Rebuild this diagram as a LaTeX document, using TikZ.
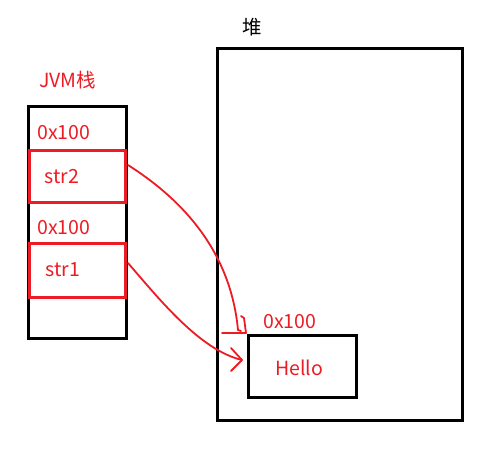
\documentclass[tikz,border=0pt]{standalone}
\usepackage{fontspec}
\setmainfont{Noto Sans CJK SC}
\definecolor{penred}{RGB}{237,28,36}
\begin{document}
\begin{tikzpicture}[x=1pt,y=-1pt,
  blackbox/.style={draw=black,line width=3pt},
  redbox/.style={draw=penred,line width=3pt},
  lbl/.style={font=\fontsize{19.5}{22}\selectfont,inner sep=0pt},
  redlbl/.style={lbl,text=penred},
  link/.style={draw=penred,line width=1.8pt,line cap=round,line join=round}]
\useasboundingbox[fill=white] (0,0) rectangle (495,472);
% stack
\draw[blackbox] (28,106) rectangle (126,338);
\node[redlbl,anchor=west] (jvm) at (39,80) {JVM栈};
\node[redlbl,anchor=west] (a2) at (37,133) {0x100};
\node[redlbl,anchor=west] (a1) at (37,228) {0x100};
\draw[redbox] (29,150) rectangle (125,202);
\node[redlbl] (s2) at (62,177) {str2};
\draw[redbox] (29,243) rectangle (125,297);
\node[redlbl] (s1) at (63,270) {str1};
\coordinate (s2e) at (128,165);
\coordinate (s1e) at (128,263);
% heap
\draw[blackbox] (217,48) rectangle (462,420);
\node[lbl,anchor=west] (heap) at (242,27) {堆};
\draw[blackbox] (248,335) rectangle (356,397);
\node[redlbl,anchor=west] (ha) at (263,322) {0x100};
\node[redlbl] (hello) at (299,368) {Hello};
\coordinate (t2) at (238,330);
\coordinate (t1) at (242,360);
% connectors
\draw[link] (s2e) .. controls (175,195) and (230,245) .. (t2);
\draw[link] (t2) -- ++(3,1);
\draw[link] (222,333) -- (246,333) -- (244,318) -- (241,316);
\draw[link] (s1e) .. controls (160,300) and (200,350) .. (t1);
\draw[link] (231,348) -- (t1) -- (231,371);
\end{tikzpicture}
\end{document}
